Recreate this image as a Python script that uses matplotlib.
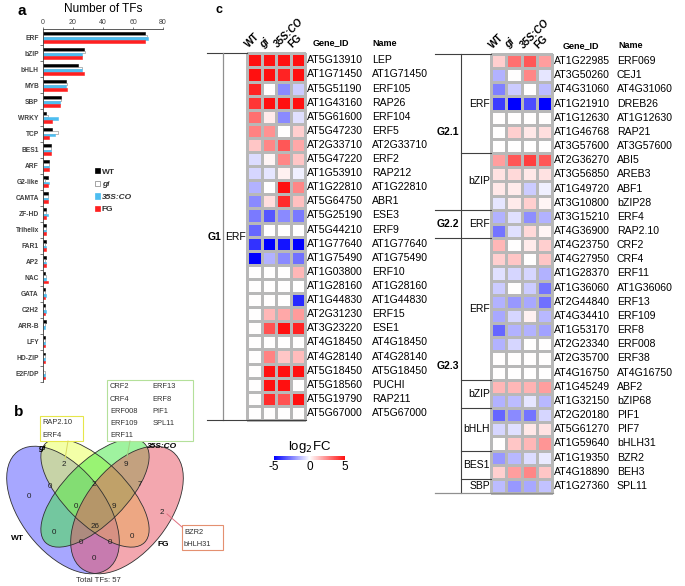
import numpy as np
import matplotlib
matplotlib.use("Agg")
import matplotlib.pyplot as plt
from matplotlib.colors import LinearSegmentedColormap, Normalize
from matplotlib.patches import Ellipse, Rectangle, Patch
from matplotlib.cm import ScalarMappable

plt.rcParams['font.family'] = ['Liberation Sans', 'DejaVu Sans']
plt.rcParams['axes.unicode_minus'] = False

W, H = 685, 586

# ---------------- panel a data ----------------
families = ["ERF", "bZIP", "bHLH", "MYB", "SBP", "WRKY", "TCP", "BES1", "ARF",
            "G2-like", "CAMTA", "ZF-HD", "Trihelix", "FAR1", "AP2", "NAC", "GATA",
            "C2H2", "ARR-B", "LFY", "HD-ZIP", "E2F/DP"]
wt = [68, 27, 23, 15, 12, 2, 6, 5, 4, 3, 3, 2, 2, 2, 2, 1, 1, 1, 2, 1, 1, 0]
gi = [69, 28, 26, 16, 12, 3, 10, 5, 4, 1, 3, 2, 2, 1, 1, 2, 1, 1, 1, 1, 1, 1]
co = [70, 26, 26, 15, 11, 10, 8, 5, 4, 4, 3, 3, 2, 2, 2, 2, 2, 2, 1, 1, 1, 1]
fg = [68, 26, 27, 16, 11, 6, 4, 5, 4, 3, 3, 2, 2, 2, 2, 3, 1, 1, 0, 1, 1, 1]
lines = ["WT", "gi", "35S:CO", "FG"]

# ---------------- panel b data ----------------
venn_regions = ["gi", "35S:CO", "WT", "WT&gi", "gi&CO", "CO&FG", "FG",
                "WT&gi&CO", "gi&CO&FG", "WT&CO", "all", "gi&FG",
                "WT&CO&FG", "WT&gi&FG", "WT&FG"]
venn_counts = [2, 9, 0, 0, 2, 7, 2, 0, 9, 0, 26, 0, 0, 0, 0]
total_tfs = 57
gi_only = ["RAP2.10", "ERF4"]
co_only = ["CRF2", "CRF4", "ERF008", "ERF109", "ERF11", "ERF13", "ERF8", "PIF1", "SPL11"]
fg_only = ["BZR2", "bHLH31"]

# ---------------- panel c data ----------------
g1_ids = ["AT5G13910", "AT1G71450", "AT5G51190", "AT1G43160", "AT5G61600", "AT5G47230",
          "AT2G33710", "AT5G47220", "AT1G53910", "AT1G22810", "AT5G64750", "AT5G25190",
          "AT5G44210", "AT1G77640", "AT1G75490", "AT1G03800", "AT1G28160", "AT1G44830",
          "AT2G31230", "AT3G23220", "AT4G18450", "AT4G28140", "AT5G18450", "AT5G18560",
          "AT5G19790", "AT5G67000"]
g1_names = ["LEP", "AT1G71450", "ERF105", "RAP26", "ERF104", "ERF5", "AT2G33710", "ERF2",
            "RAP212", "AT1G22810", "ABR1", "ESE3", "ERF9", "AT1G77640", "AT1G75490", "ERF10",
            "AT1G28160", "AT1G44830", "ERF15", "ESE1", "AT4G18450", "AT4G28140", "AT5G18450",
            "PUCHI", "RAP211", "AT5G67000"]
g1_fc = [[5, 5, 5, 5], [5, 5, 4.6, 5], [4.6, 0, -2.3, -1], [4.2, 5, 5, 5],
         [3, 0.4, -2.3, -0.6], [2.6, 2.3, 0, 1], [1.2, 2.5, 3.5, 1.8], [-0.7, 0.2, 2.5, 1.2],
         [-0.8, -0.5, 0.3, -0.3], [-1.5, 0, 5, 2.5], [-2.3, 0.7, 4.4, 1.3],
         [-2.6, -3.3, -2.3, -2.6], [-3, 0, 0, 0], [-4, -5, -4.6, -5], [-5, -1.5, -2.3, -2.8],
         [0, 0, 0, 1.5], [0, 0, 0, 0], [0, 0, 0, -4.2], [0, 1.5, 1.8, 2.1], [0, 3.6, 5, 4.6],
         [0, 0, 0, 0], [0, 2.6, 1.2, 1.4], [0, 5, 5, 5], [0, 5, 5, 0], [0, 4.4, 3.6, 5],
         [0, 0, 0, 0]]

g2_ids = ["AT1G22985", "AT3G50260", "AT4G31060", "AT1G21910", "AT1G12630", "AT1G46768",
          "AT3G57600", "AT2G36270", "AT3G56850", "AT1G49720", "AT3G10800", "AT3G15210",
          "AT4G36900", "AT4G23750", "AT4G27950", "AT1G28370", "AT1G36060", "AT2G44840",
          "AT4G34410", "AT1G53170", "AT2G23340", "AT2G35700", "AT4G16750", "AT1G45249",
          "AT1G32150", "AT2G20180", "AT5G61270", "AT1G59640", "AT1G19350", "AT4G18890",
          "AT1G27360"]
g2_names = ["ERF069", "CEJ1", "AT4G31060", "DREB26", "AT1G12630", "RAP21", "AT3G57600",
            "ABI5", "AREB3", "ABF1", "bZIP28", "ERF4", "RAP2.10", "CRF2", "CRF4", "ERF11",
            "AT1G36060", "ERF13", "ERF109", "ERF8", "ERF008", "ERF38", "AT4G16750", "ABF2",
            "bZIP68", "PIF1", "PIF7", "bHLH31", "BZR2", "BEH3", "SPL11"]
g2_fc = [[1, 3, 3.5, 2], [-1.5, 0, 2.5, -0.5], [-2.5, -1, 0, -1.3], [-3.8, -5, -3.5, -5],
         [0, 0, 0, 0], [0, 1, 0.5, 0.7], [0, 0, 0, 0], [2, 3.5, 4, 3.5],
         [0.6, 0.8, 0.5, 0.6], [0.5, 0.4, -1, -0.3], [-0.5, 0.4, 1, 0.2],
         [-1.5, -0.6, -2.2, -1.5], [-2.7, -0.6, 0.8, 0.2], [1.5, 0, 0.4, 1],
         [1, 1.2, 0, 1.2], [-0.6, -0.8, -0.8, -1.5], [-1, 0, -1, -2.7],
         [-1.5, -2, -1.7, -2.8], [-1.7, -0.8, 0.3, -1.4], [-3, -1.5, -1.5, -1.8],
         [-1.5, -0.8, 0, 0], [0, 0, 0, 0], [0, 0, 0, 0], [1.5, 1.5, 1.6, 2],
         [-1.5, -1.3, -0.5, -1.4], [-3, -2.3, -2.7, -0.8], [-0.8, -0.6, 0.5, 0.6],
         [0, 1.2, 1.5, 2.2], [-2, -1.4, -0.7, -0.4], [1, 2, 2.5, 1.2], [-1.3, -2, -1.7, -1.2]]
g2_groups = [("G2.1", [("ERF", 7), ("bZIP", 4)]),
             ("G2.2", [("ERF", 2)]),
             ("G2.3", [("ERF", 10), ("bZIP", 2), ("bHLH", 3), ("BES1", 2), ("SBP", 1)])]

fig = plt.figure(figsize=(W / 100, H / 100), dpi=100)


def px_axes(x0, y0, x1, y1):
    return fig.add_axes([x0 / W, 1 - y1 / H, (x1 - x0) / W, (y1 - y0) / H])


# ---------------- panel a ----------------
ax = px_axes(43, 29, 163, 382)
n = len(families)
ypos = np.arange(n)
h = 0.17
styles = [("black", "black"), ("white", "#808080"), ("#4dbdf0", "#4dbdf0"), ("#ff2020", "#ff2020")]
for k, (vals, (fc_, ec_)) in enumerate(zip([wt, gi, co, fg], styles)):
    ax.barh(ypos - 1.5 * h + k * h, vals, height=h, color=fc_, edgecolor=ec_, linewidth=0.4)
ax.set_xlim(0, 80)
ax.set_ylim(n - 0.7, -0.52)
ax.xaxis.tick_top()
ax.set_xticks([0, 20, 40, 60, 80])
ax.tick_params(axis='x', labelsize=5, length=1.5, width=0.5, pad=1, colors='#404040')
ax.set_yticks(ypos)
ax.set_yticklabels(families, fontsize=4.8, fontweight='bold', color='#404040')
ax.tick_params(axis='y', length=0, pad=3)
ax.set_yticks(np.arange(n) + 0.5, minor=True)
ax.tick_params(axis='y', which='minor', length=2, width=0.5, color='#404040')
for s in ["right", "bottom"]:
    ax.spines[s].set_visible(False)
for s in ["left", "top"]:
    ax.spines[s].set_linewidth(0.6)
    ax.spines[s].set_color('#404040')
fig.text(103 / W, 1 - 9 / H, "Number of TFs", fontsize=8.5, ha='center', va='center')

handles = [Patch(facecolor=f, edgecolor=e, linewidth=0.5) for f, e in styles]
leg = fig.legend(handles, lines, loc='upper left', bbox_to_anchor=(91 / W, 1 - 164 / H),
                 frameon=False, fontsize=6, handlelength=0.6, handleheight=0.6,
                 handletextpad=0.2, labelspacing=0.6, borderpad=0)
for t in leg.get_texts():
    t.set_fontweight('bold')
    t.set_color('#303030')
leg.get_texts()[1].set_style('italic')
leg.get_texts()[2].set_style('italic')

fig.text(17 / W, 1 - 11 / H, "a", fontsize=11, fontweight='bold', va='center')
fig.text(14 / W, 1 - 412 / H, "b", fontsize=11, fontweight='bold', va='center')
fig.text(216 / W, 1 - 10 / H, "c", fontsize=9, fontweight='bold', va='center')

# ---------------- panel c ----------------
cmap = LinearSegmentedColormap.from_list("fc", ["#0000ff", "#ffffff", "#ff1010"])
norm = Normalize(-5, 5)
edge = '#b8b8b8'
dark = '#404040'


def heat(axh, vals, ids, names, id_x, name_x, head_y, gid_x, nm_x):
    m = axh.pcolormesh(np.array(vals), cmap=cmap, norm=norm, edgecolors=edge, linewidth=0.9)
    m.set_clip_on(False)
    nr = len(vals)
    axh.set_xlim(0, 4)
    axh.set_ylim(nr, 0)
    axh.axis('off')
    for i in range(nr):
        axh.text(id_x, i + 0.5, ids[i], fontsize=7.6, va='center', ha='left')
        axh.text(name_x, i + 0.5, names[i], fontsize=7.6, va='center', ha='left')
    for j, lab in enumerate(lines):
        st = 'italic' if lab in ("gi", "35S:CO") else 'normal'
        axh.text(j + 0.22, -0.25, lab, rotation=45, rotation_mode='anchor', ha='left',
                 va='bottom', fontsize=7.3, fontweight='bold', style=st)
    axh.text(gid_x, head_y, "Gene_ID", fontsize=6.5, fontweight='bold', va='center')
    axh.text(nm_x, head_y, "Name", fontsize=6.5, fontweight='bold', va='center')


axL = px_axes(247, 53.3, 305, 420)
heat(axL, g1_fc, g1_ids, g1_names, 4.14, 8.62, -0.73, 4.55, 8.62)
nL = len(g1_fc)
axL.plot([-2.76, 0], [0, 0], color=dark, lw=0.8, clip_on=False)
axL.plot([-1.66, -1.66], [0, nL], color='#909090', lw=0.9, clip_on=False)
axL.plot([-2.76, 4.05], [nL, nL], color=dark, lw=0.8, clip_on=False)
axL.text(-1.8, nL / 2, "G1", fontsize=7.5, fontweight='bold', ha='right', va='center')
axL.text(-0.05, nL / 2, "ERF", fontsize=7.5, ha='right', va='center')

axR = px_axes(491, 54, 552, 493)
heat(axR, g2_fc, g2_ids, g2_names, 4.13, 8.26, -0.57, 4.72, 8.33)
nR = len(g2_fc)
xg, xf = -3.67, -1.97
axR.plot([xg, 0], [0, 0], color=dark, lw=0.8, clip_on=False)
axR.plot([xf, xf], [0, nR], color=dark, lw=0.8, clip_on=False)
axR.plot([xg, 4.05], [nR, nR], color='#909090', lw=0.9, clip_on=False)
row = 0
for gi_, (gname, fams) in enumerate(g2_groups):
    gstart = row
    for fi, (fname, cnt) in enumerate(fams):
        axR.text(-0.08, row + cnt / 2, fname, fontsize=7.5, ha='right', va='center')
        row += cnt
        if fi < len(fams) - 1:
            axR.plot([xf, 0], [row, row], color=dark, lw=0.8, clip_on=False)
    axR.text(-2.82, (gstart + row) / 2, gname, fontsize=7.5, fontweight='bold',
             ha='center', va='center')
    if gi_ < len(g2_groups) - 1:
        axR.plot([xg, 0], [row, row], color=dark, lw=0.8, clip_on=False)

cax = px_axes(274, 456, 345, 460)
cb = fig.colorbar(ScalarMappable(norm=norm, cmap=cmap), cax=cax, orientation='horizontal',
                  ticks=[-5, 0, 5])
cb.outline.set_visible(False)
cax.tick_params(length=0, labelsize=8.5, pad=1)
cax.set_title("log$_2$FC", fontsize=9.5, pad=4)

# ---------------- panel b (venn) ----------------
ov = fig.add_axes([0, 0, 1, 1])
ov.set_xlim(0, W)
ov.set_ylim(H, 0)
ov.axis('off')

ell = [((63, 510), 148, 84, 52, '#5050ff'),
       ((95, 493), 140, 62, 45, '#e8ff50'),
       ((95, 493), 140, 62, -45, '#40e840'),
       ((127, 510), 148, 84, -52, '#e85060')]
for c, w_, h_, a, col in ell:
    ov.add_patch(Ellipse(c, w_, h_, angle=a, facecolor=col, alpha=0.5, edgecolor='none'))
for c, w_, h_, a, col in ell:
    ov.add_patch(Ellipse(c, w_, h_, angle=a, facecolor='none', edgecolor='#303030', lw=0.6))

region_xy = [(64, 465), (126, 464), (29, 497), (50, 487), (94, 484), (140, 484), (162, 512),
             (76, 507), (114, 507), (54, 533), (95, 526), (132, 536), (81, 542), (110, 542),
             (94, 559)]
for (x, y), cnt in zip(region_xy, venn_counts):
    ov.text(x, y, str(cnt), fontsize=5.8, ha='center', va='center', color='#202020')

ov.text(42, 449, "gi", fontsize=6, fontweight='bold', style='italic', ha='center', va='center')
ov.text(162, 447, "35S:CO", fontsize=6, fontweight='bold', style='italic', ha='center', va='center')
ov.text(17, 538, "WT", fontsize=6, fontweight='bold', ha='center', va='center')
ov.text(163, 545, "FG", fontsize=6, fontweight='bold', ha='center', va='center')
ov.text(98, 580, f"Total TFs: {total_tfs}", fontsize=5.6, ha='center', va='center', color='#303030')

# call-out boxes
ov.add_patch(Rectangle((40, 416), 43, 25, facecolor='white', edgecolor='#e6e64a', lw=0.8))
ov.plot([68, 65], [441, 459], color='#d8d860', lw=0.7)
for k, g in enumerate(gi_only):
    ov.text(42.5, 423 + 12.5 * k, g, fontsize=5.4, va='center', color='#303030')

ov.add_patch(Rectangle((107, 380), 86, 61, facecolor='white', edgecolor='#b4e09a', lw=0.8))
ov.plot([130, 127], [441, 457], color='#a0d080', lw=0.7)
for k, g in enumerate(co_only):
    col_x = 110 if k < 5 else 152.5
    ov.text(col_x, 387 + 12.2 * (k % 5), g, fontsize=5.4, va='center', color='#303030')

ov.add_patch(Rectangle((182, 525), 41, 25, facecolor='white', edgecolor='#e49070', lw=0.8))
ov.plot([167, 182], [514, 527], color='#e07080', lw=0.7)
for k, g in enumerate(fg_only):
    ov.text(184, 532 + 12 * k, g, fontsize=5.4, va='center', color='#303030')

fig.savefig("out.png", dpi=100)
